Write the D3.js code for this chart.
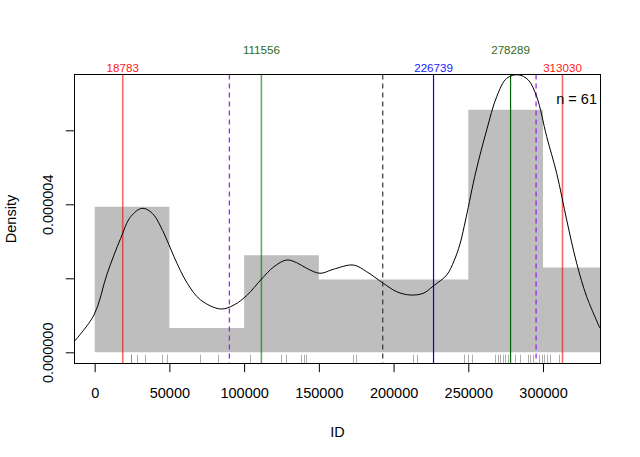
<!DOCTYPE html>
<html>
<head>
<meta charset="utf-8">
<script src="https://cdn.jsdelivr.net/npm/d3@7"></script>
<style>
  html, body { margin: 0; padding: 0; background: #fff; }
  svg text { font-family: "Liberation Sans", Arial, sans-serif; }
</style>
</head>
<body>
<svg id="chart" width="640" height="457"></svg>
<script>
// ---- data ----
const breaks = [0, 50000, 100000, 150000, 200000, 250000, 300000, 350000];
const counts = [12, 2, 8, 6, 6, 20, 7];
const nObs = 61;

// density curve (x, density in units of 1e-6)
const densX = [-13852, -468, 8431, 17398, 24090, 31852, 38544, 46373, 53065, 61964,
  70931, 84314, 93214, 102114, 111081, 119980, 128479, 135170, 141862, 150761,
  159661, 173044, 182012, 193120, 202086, 210986, 219886, 226578, 235544, 240430,
  244445, 248460, 255000, 262311, 269002, 275694, 283456, 290148, 295769, 302461, 309152,
  315844, 322535, 329227, 338127];
const densY = [0.286, 1.008, 2.135, 3.081, 3.665, 3.892, 3.757, 3.216, 2.584, 1.865,
  1.414, 1.170, 1.278, 1.549, 1.954, 2.314, 2.495, 2.422, 2.270, 2.135,
  2.243, 2.359, 2.178, 1.865, 1.638, 1.549, 1.595, 1.792, 2.089, 2.468,
  2.928, 3.630, 4.870, 6.008, 6.908, 7.405, 7.500, 7.359, 6.908, 5.827, 4.838,
  3.576, 2.405, 1.503, 0.649];

// rug values
const rugVals = [24090, 24300, 28506, 33458, 44834, 48581, 70463, 82708, 103921,
  124665, 127810, 138048, 139854, 141594, 172643, 174851, 213195, 215671,
  247322, 249797, 252474, 268066, 269671, 271411, 273218, 274757, 276363,
  281449, 284795, 289948, 291486, 293092, 297107, 299315, 300854, 302661,
  304468, 310490];

// quantile lines
const qVals = [18783, 111556, 226739, 278289, 313030];
const qLabels = ["18783", "111556", "226739", "278289", "313030"];
const qLineColors = ["rgba(255,0,0,0.6)", "rgba(0,110,0,0.6)", "#0000FF", "#006400", "rgba(255,0,0,0.6)"];
const qTextColors = ["#FF2020", "#2E6B1E", "#2020FF", "#2E6B1E", "#FF2020"];
const qRows = [0, 1, 0, 1, 0];

const meanVal = 192750;
const sdVals = [90150, 295350];

const xTicks = [0, 50000, 100000, 150000, 200000, 250000, 300000];
const xTickLabels = ["0", "50000", "100000", "150000", "200000", "250000", "300000"];
const yTicks = [0, 2, 4, 6];
const yTickLabels = ["0.000000", "", "0.000004", ""];

// ---- layout ----
const svg = d3.select("#chart");
const L = 74.5, R = 600.5, T = 74.5, B = 363.5;
const x = d3.scaleLinear().domain([-13500, 338460]).range([L, R]);
const y = d3.scaleLinear().domain([-0.2973, 7.5135]).range([363.3, 74.3]);

svg.append("defs").append("clipPath").attr("id", "clip")
  .append("rect").attr("x", L).attr("y", T).attr("width", R - L).attr("height", B - T);

const plot = svg.append("g").attr("clip-path", "url(#clip)");

// histogram (density = count / (n * width)), drawn as one step polygon to avoid seams
const bins = counts.map((c, i) => ({
  x0: breaks[i], x1: breaks[i + 1],
  d: c / (nObs * (breaks[i + 1] - breaks[i])) * 1e6
}));
const hp = d3.path();
hp.moveTo(x(bins[0].x0), y(0));
bins.forEach(b => { hp.lineTo(x(b.x0), y(b.d)); hp.lineTo(x(b.x1), y(b.d)); });
hp.lineTo(x(bins[bins.length - 1].x1), y(0));
hp.closePath();
plot.append("path").attr("d", hp.toString()).attr("fill", "#BEBEBE").attr("stroke", "none");

// rug
plot.selectAll("line.rug").data(rugVals).enter().append("line")
  .attr("class", "rug")
  .attr("x1", d => Math.round(x(d)) + 0.5).attr("x2", d => Math.round(x(d)) + 0.5)
  .attr("y1", 363.3).attr("y2", 354.6)
  .attr("stroke", "rgba(120,120,120,0.6)").attr("stroke-width", 1);

// sd dashed lines
plot.selectAll("line.sd").data(sdVals).enter().append("line")
  .attr("x1", d => x(d)).attr("x2", d => x(d))
  .attr("y1", T).attr("y2", B)
  .attr("stroke", "#A020F0").attr("stroke-width", 1.3)
  .attr("stroke-dasharray", "5,4");

// mean dashed line
plot.append("line")
  .attr("x1", x(meanVal)).attr("x2", x(meanVal))
  .attr("y1", T).attr("y2", B)
  .attr("stroke", "#333").attr("stroke-width", 1.2)
  .attr("stroke-dasharray", "5,4");

// quantile lines
plot.selectAll("line.q").data(qVals).enter().append("line")
  .attr("x1", d => x(d)).attr("x2", d => x(d))
  .attr("y1", T).attr("y2", B)
  .attr("stroke", (d, i) => qLineColors[i])
  .attr("stroke-width", (d, i) => (i === 2 || i === 3) ? 1.2 : 1.6);

// density curve
const pts = densX.map((v, i) => [v, densY[i]]);
plot.append("path")
  .datum(pts)
  .attr("d", d3.line().x(d => x(d[0])).y(d => y(d[1])).curve(d3.curveCatmullRom.alpha(0.5)))
  .attr("fill", "none").attr("stroke", "#000").attr("stroke-width", 1);

// box
svg.append("rect").attr("x", L).attr("y", T).attr("width", R - L).attr("height", B - T)
  .attr("fill", "none").attr("stroke", "#000").attr("stroke-width", 1);

// x axis
const xAxis = d3.axisBottom(x).tickValues(xTicks).tickSize(8.7)
  .tickFormat((d, i) => xTickLabels[i]);
const gx = svg.append("g").attr("transform", `translate(0,${B})`).call(xAxis);
gx.select(".domain").remove();
gx.selectAll(".tick line").attr("stroke", "#000");
gx.selectAll(".tick text").attr("y", 0).attr("dy", null)
  .attr("transform", "translate(0,34)")
  .attr("font-size", "14.5px").attr("fill", "#000")
  .attr("font-family", '"Liberation Sans", Arial, sans-serif');

// y axis
const yAxis = d3.axisLeft(y).tickValues(yTicks).tickSize(8.7)
  .tickFormat((d, i) => yTickLabels[i]);
const gy = svg.append("g").attr("transform", `translate(${L},0)`).call(yAxis);
gy.select(".domain").remove();
gy.selectAll(".tick line").attr("stroke", "#000");
gy.selectAll(".tick text")
  .attr("x", null).attr("dy", null)
  .attr("text-anchor", "middle")
  .attr("transform", `translate(${52.5 - L},0) rotate(-90)`)
  .attr("font-size", "14.5px").attr("fill", "#000")
  .attr("font-family", '"Liberation Sans", Arial, sans-serif');

// axis titles
svg.append("text").attr("x", x(162480)).attr("y", 436.5)
  .attr("text-anchor", "middle").attr("font-size", "14.5px").text("ID");
svg.append("text").attr("transform", `translate(15.5,${(T + B) / 2}) rotate(-90)`)
  .attr("text-anchor", "middle").attr("font-size", "14.5px").text("Density");

// quantile labels
svg.selectAll("text.qlab").data(qVals).enter().append("text")
  .attr("x", d => x(d))
  .attr("y", (d, i) => qRows[i] === 0 ? 72 : 53.5)
  .attr("text-anchor", "middle")
  .attr("font-size", "11.6px")
  .attr("fill", (d, i) => qTextColors[i])
  .text((d, i) => qLabels[i]);

// n label
svg.append("text").attr("x", 597).attr("y", 103.5)
  .attr("text-anchor", "end").attr("font-size", "14.5px").text("n = " + nObs);
</script>
</body>
</html>
